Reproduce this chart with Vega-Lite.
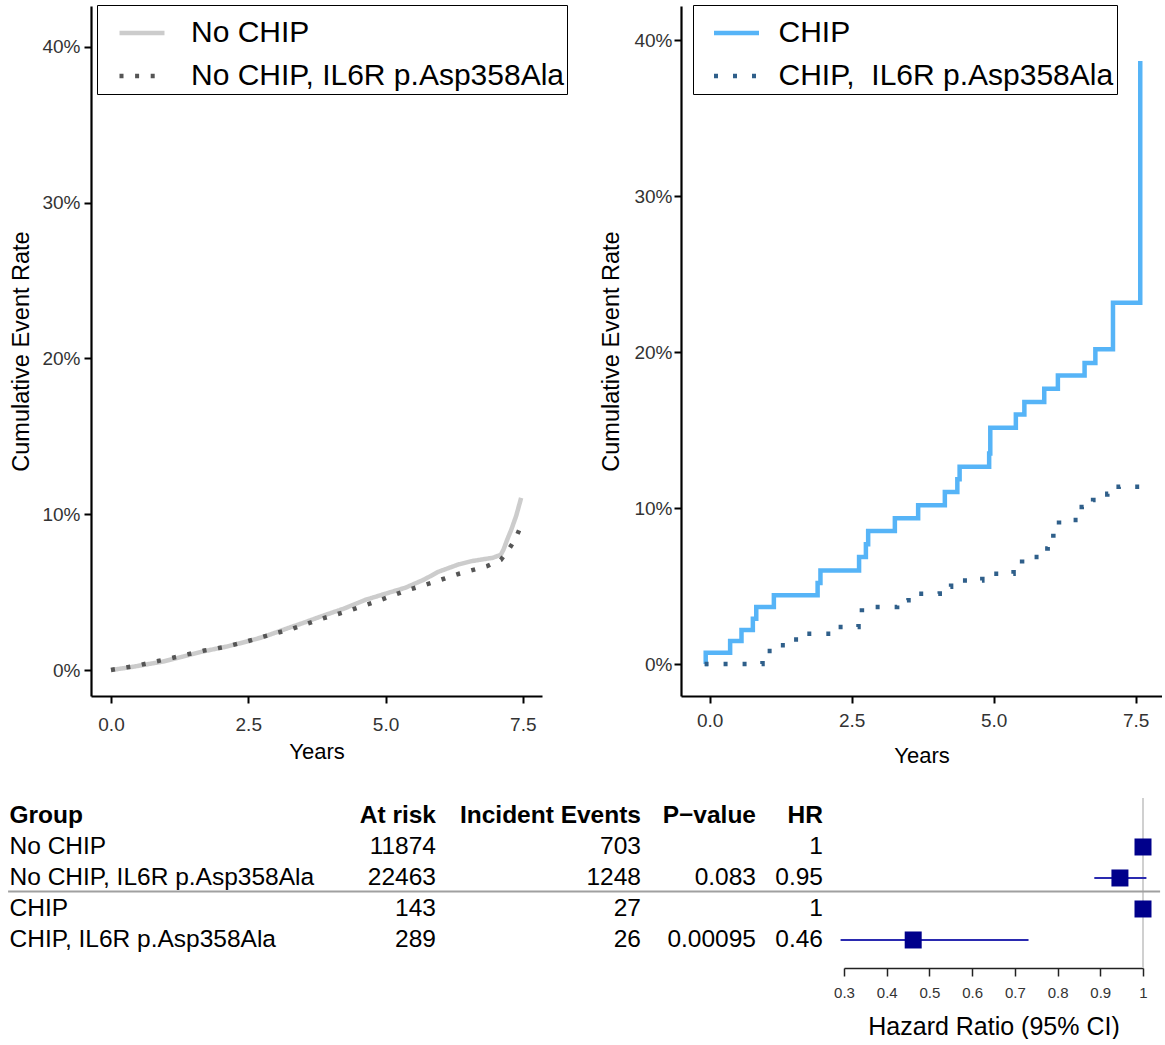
{
  "$schema": "https://vega.github.io/schema/vega-lite/v6.json",
  "padding": {"left": 7, "top": 4, "right": 0, "bottom": 0},
  "background": "white",
  "config": {
    "view": {"stroke": null},
    "font": "Liberation Sans",
    "axis": {"grid": false, "domainColor": "black", "tickColor": "black", "labelColor": "#333333", "titleColor": "black", "titleFontWeight": "normal", "labelFont": "Liberation Sans", "titleFont": "Liberation Sans", "labelFlush": false},
    "text": {"font": "Liberation Sans"},
    "legend": {"labelFont": "Liberation Sans"}
  },
  "datasets": {
    "km_left": [
      {"group": "No CHIP", "years": 0, "rate": 0},
      {"group": "No CHIP", "years": 0.3, "rate": 0.15},
      {"group": "No CHIP", "years": 0.6, "rate": 0.33},
      {"group": "No CHIP", "years": 0.93, "rate": 0.53},
      {"group": "No CHIP", "years": 1.3, "rate": 0.85},
      {"group": "No CHIP", "years": 1.66, "rate": 1.18},
      {"group": "No CHIP", "years": 2.1, "rate": 1.5},
      {"group": "No CHIP", "years": 2.5, "rate": 1.85},
      {"group": "No CHIP", "years": 2.8, "rate": 2.15},
      {"group": "No CHIP", "years": 3.24, "rate": 2.71},
      {"group": "No CHIP", "years": 3.5, "rate": 3.02},
      {"group": "No CHIP", "years": 3.84, "rate": 3.46},
      {"group": "No CHIP", "years": 4.25, "rate": 3.95},
      {"group": "No CHIP", "years": 4.63, "rate": 4.5},
      {"group": "No CHIP", "years": 5.0, "rate": 4.9},
      {"group": "No CHIP", "years": 5.36, "rate": 5.28},
      {"group": "No CHIP", "years": 5.7, "rate": 5.8},
      {"group": "No CHIP", "years": 5.96, "rate": 6.3},
      {"group": "No CHIP", "years": 6.33, "rate": 6.78},
      {"group": "No CHIP", "years": 6.57, "rate": 6.99},
      {"group": "No CHIP", "years": 6.76, "rate": 7.1},
      {"group": "No CHIP", "years": 6.95, "rate": 7.2},
      {"group": "No CHIP", "years": 7.1, "rate": 7.4},
      {"group": "No CHIP", "years": 7.15, "rate": 7.74},
      {"group": "No CHIP", "years": 7.22, "rate": 8.4},
      {"group": "No CHIP", "years": 7.29, "rate": 9.0},
      {"group": "No CHIP", "years": 7.38, "rate": 9.9},
      {"group": "No CHIP", "years": 7.47, "rate": 11.05},
      {"group": "No CHIP, IL6R p.Asp358Ala", "years": 0, "rate": 0},
      {"group": "No CHIP, IL6R p.Asp358Ala", "years": 0.5, "rate": 0.3},
      {"group": "No CHIP, IL6R p.Asp358Ala", "years": 1.13, "rate": 0.79},
      {"group": "No CHIP, IL6R p.Asp358Ala", "years": 1.7, "rate": 1.25},
      {"group": "No CHIP, IL6R p.Asp358Ala", "years": 2.1, "rate": 1.5},
      {"group": "No CHIP, IL6R p.Asp358Ala", "years": 2.5, "rate": 1.86},
      {"group": "No CHIP, IL6R p.Asp358Ala", "years": 2.77, "rate": 2.14},
      {"group": "No CHIP, IL6R p.Asp358Ala", "years": 3.3, "rate": 2.65},
      {"group": "No CHIP, IL6R p.Asp358Ala", "years": 3.8, "rate": 3.25},
      {"group": "No CHIP, IL6R p.Asp358Ala", "years": 4.32, "rate": 3.79},
      {"group": "No CHIP, IL6R p.Asp358Ala", "years": 4.82, "rate": 4.38},
      {"group": "No CHIP, IL6R p.Asp358Ala", "years": 5.32, "rate": 5.03},
      {"group": "No CHIP, IL6R p.Asp358Ala", "years": 5.82, "rate": 5.58},
      {"group": "No CHIP, IL6R p.Asp358Ala", "years": 6.34, "rate": 6.18},
      {"group": "No CHIP, IL6R p.Asp358Ala", "years": 6.85, "rate": 6.67},
      {"group": "No CHIP, IL6R p.Asp358Ala", "years": 7.1, "rate": 7.07},
      {"group": "No CHIP, IL6R p.Asp358Ala", "years": 7.24, "rate": 7.71},
      {"group": "No CHIP, IL6R p.Asp358Ala", "years": 7.37, "rate": 8.44},
      {"group": "No CHIP, IL6R p.Asp358Ala", "years": 7.47, "rate": 9.29}
    ],
    "km_right": [
      {"group": "CHIP", "years": -0.08, "rate": 0},
      {"group": "CHIP", "years": -0.07, "rate": 0.72},
      {"group": "CHIP", "years": 0.36, "rate": 1.47},
      {"group": "CHIP", "years": 0.56, "rate": 2.18},
      {"group": "CHIP", "years": 0.76, "rate": 2.9},
      {"group": "CHIP", "years": 0.82, "rate": 3.65},
      {"group": "CHIP", "years": 1.13, "rate": 4.4},
      {"group": "CHIP", "years": 1.9, "rate": 5.2},
      {"group": "CHIP", "years": 1.95, "rate": 6.0},
      {"group": "CHIP", "years": 2.63, "rate": 6.86},
      {"group": "CHIP", "years": 2.75, "rate": 7.67},
      {"group": "CHIP", "years": 2.79, "rate": 8.53},
      {"group": "CHIP", "years": 3.26, "rate": 9.34},
      {"group": "CHIP", "years": 3.67, "rate": 10.17},
      {"group": "CHIP", "years": 4.14, "rate": 11.03},
      {"group": "CHIP", "years": 4.36, "rate": 11.84},
      {"group": "CHIP", "years": 4.4, "rate": 12.65},
      {"group": "CHIP", "years": 4.92, "rate": 13.5},
      {"group": "CHIP", "years": 4.94, "rate": 15.15},
      {"group": "CHIP", "years": 5.39, "rate": 16.0},
      {"group": "CHIP", "years": 5.54, "rate": 16.8},
      {"group": "CHIP", "years": 5.89, "rate": 17.65},
      {"group": "CHIP", "years": 6.13, "rate": 18.5},
      {"group": "CHIP", "years": 6.6, "rate": 19.3},
      {"group": "CHIP", "years": 6.79, "rate": 20.17},
      {"group": "CHIP", "years": 7.1, "rate": 23.16},
      {"group": "CHIP", "years": 7.58, "rate": 38.65},
      {"group": "CHIP,\u00a0 IL6R p.Asp358Ala", "years": -0.09, "rate": 0},
      {"group": "CHIP,\u00a0 IL6R p.Asp358Ala", "years": 0.93, "rate": 0.83},
      {"group": "CHIP,\u00a0 IL6R p.Asp358Ala", "years": 1.17, "rate": 1.2},
      {"group": "CHIP,\u00a0 IL6R p.Asp358Ala", "years": 1.4, "rate": 1.57},
      {"group": "CHIP,\u00a0 IL6R p.Asp358Ala", "years": 1.62, "rate": 1.94},
      {"group": "CHIP,\u00a0 IL6R p.Asp358Ala", "years": 2.15, "rate": 2.37},
      {"group": "CHIP,\u00a0 IL6R p.Asp358Ala", "years": 2.62, "rate": 3.18},
      {"group": "CHIP,\u00a0 IL6R p.Asp358Ala", "years": 2.68, "rate": 3.65},
      {"group": "CHIP,\u00a0 IL6R p.Asp358Ala", "years": 3.3, "rate": 4.08},
      {"group": "CHIP,\u00a0 IL6R p.Asp358Ala", "years": 3.5, "rate": 4.51},
      {"group": "CHIP,\u00a0 IL6R p.Asp358Ala", "years": 4.05, "rate": 4.95},
      {"group": "CHIP,\u00a0 IL6R p.Asp358Ala", "years": 4.25, "rate": 5.36},
      {"group": "CHIP,\u00a0 IL6R p.Asp358Ala", "years": 4.8, "rate": 5.79},
      {"group": "CHIP,\u00a0 IL6R p.Asp358Ala", "years": 5.35, "rate": 6.21},
      {"group": "CHIP,\u00a0 IL6R p.Asp358Ala", "years": 5.5, "rate": 6.86},
      {"group": "CHIP,\u00a0 IL6R p.Asp358Ala", "years": 5.88, "rate": 7.4},
      {"group": "CHIP,\u00a0 IL6R p.Asp358Ala", "years": 5.95, "rate": 7.93},
      {"group": "CHIP,\u00a0 IL6R p.Asp358Ala", "years": 6.05, "rate": 8.42},
      {"group": "CHIP,\u00a0 IL6R p.Asp358Ala", "years": 6.15, "rate": 9.23},
      {"group": "CHIP,\u00a0 IL6R p.Asp358Ala", "years": 6.55, "rate": 10.06},
      {"group": "CHIP,\u00a0 IL6R p.Asp358Ala", "years": 6.75, "rate": 10.51},
      {"group": "CHIP,\u00a0 IL6R p.Asp358Ala", "years": 7.0, "rate": 10.92},
      {"group": "CHIP,\u00a0 IL6R p.Asp358Ala", "years": 7.2, "rate": 11.37},
      {"group": "CHIP,\u00a0 IL6R p.Asp358Ala", "years": 7.6, "rate": 11.37}
    ],
    "table": [
      {"group": "No CHIP", "at_risk": "11874", "events": "703", "p_value": "", "hr": 1, "hr_label": "1", "lo": null, "hi": null},
      {"group": "No CHIP, IL6R p.Asp358Ala", "at_risk": "22463", "events": "1248", "p_value": "0.083", "hr": 0.946, "hr_label": "0.95", "lo": 0.886, "hi": 1.008},
      {"group": "CHIP", "at_risk": "143", "events": "27", "p_value": "", "hr": 1, "hr_label": "1", "lo": null, "hi": null},
      {"group": "CHIP, IL6R p.Asp358Ala", "at_risk": "289", "events": "26", "p_value": "0.00095", "hr": 0.462, "hr_label": "0.46", "lo": 0.292, "hi": 0.732}
    ]
  },
  "vconcat": [
    {
      "hconcat": [
        {
          "width": 451, "height": 690,
          "data": {"name": "km_left"},
          "mark": {"type": "line", "strokeWidth": 4.5, "strokeCap": "butt"},
          "encoding": {
            "x": {"field": "years", "type": "quantitative", "scale": {"domain": [-0.364, 7.85], "nice": false, "zero": false},
              "axis": {"values": [0, 2.5, 5, 7.5], "format": ".1f", "title": "Years", "labelFontSize": 19, "titleFontSize": 22, "tickSize": 7, "tickWidth": 2, "domainWidth": 2.2, "labelPadding": 12, "titlePadding": 7}},
            "y": {"field": "rate", "type": "quantitative", "scale": {"domain": [-1.669, 42.63], "nice": false, "zero": false},
              "axis": {"values": [0, 10, 20, 30, 40], "labelExpr": "datum.value + '%'", "title": "Cumulative Event Rate", "labelFontSize": 19, "titleFontSize": 23.5, "tickSize": 7, "tickWidth": 2, "domainWidth": 2.2, "labelPadding": 4, "titlePadding": 8}},
            "color": {"field": "group", "type": "nominal",
              "scale": {"domain": ["No CHIP", "No CHIP, IL6R p.Asp358Ala"], "range": ["#cccccc", "#555555"]},
              "legend": {"orient": "none", "legendX": 6, "legendY": -1, "title": null, "symbolType": "stroke", "symbolSize": 2025, "symbolStrokeWidth": 4.5, "symbolOffset": 17, "labelOffset": 24, "labelFontSize": 30, "labelColor": "black", "labelLimit": 0, "padding": 3, "rowPadding": 3, "strokeColor": "black", "fillColor": "white"}},
            "strokeDash": {"field": "group", "type": "nominal",
              "scale": {"domain": ["No CHIP", "No CHIP, IL6R p.Asp358Ala"], "range": [[1, 0], [4, 11.6]]},
              "legend": {"orient": "none", "legendX": 6, "legendY": -1, "title": null, "symbolType": "stroke", "symbolSize": 2025, "symbolStrokeWidth": 4.5, "symbolOffset": 17, "labelOffset": 24, "labelFontSize": 30, "labelColor": "black", "labelLimit": 0, "padding": 3, "rowPadding": 3, "strokeColor": "black", "fillColor": "white"}}
          }
        },
        {
          "width": 481, "height": 690,
          "data": {"name": "km_right"},
          "mark": {"type": "line", "strokeWidth": 4.5, "strokeCap": "butt", "interpolate": "step-after"},
          "encoding": {
            "x": {"field": "years", "type": "quantitative", "scale": {"domain": [-0.505, 7.963], "nice": false, "zero": false},
              "axis": {"values": [0, 2.5, 5, 7.5], "format": ".1f", "title": "Years", "labelFontSize": 19, "titleFontSize": 22, "tickSize": 7, "tickWidth": 2, "domainWidth": 2.2, "labelPadding": 8, "titlePadding": 15}},
            "y": {"field": "rate", "type": "quantitative", "scale": {"domain": [-2.051, 42.18], "nice": false, "zero": false},
              "axis": {"values": [0, 10, 20, 30, 40], "labelExpr": "datum.value + '%'", "title": "Cumulative Event Rate", "labelFontSize": 19, "titleFontSize": 23.5, "tickSize": 7, "tickWidth": 2, "domainWidth": 2.2, "labelPadding": 2, "titlePadding": 10}},
            "color": {"field": "group", "type": "nominal",
              "scale": {"domain": ["CHIP", "CHIP,\u00a0 IL6R p.Asp358Ala"], "range": ["#56b4f7", "#2f5f8a"]},
              "legend": {"orient": "none", "legendX": 12, "legendY": -1, "title": null, "symbolType": "stroke", "symbolSize": 2025, "symbolStrokeWidth": 4.5, "symbolOffset": 15.5, "labelOffset": 17, "labelFontSize": 30, "labelColor": "black", "labelLimit": 0, "padding": 3, "rowPadding": 3, "strokeColor": "black", "fillColor": "white"}},
            "strokeDash": {"field": "group", "type": "nominal",
              "scale": {"domain": ["CHIP", "CHIP,\u00a0 IL6R p.Asp358Ala"], "range": [[1, 0], [4, 15]]},
              "legend": {"orient": "none", "legendX": 12, "legendY": -1, "title": null, "symbolType": "stroke", "symbolSize": 2025, "symbolStrokeWidth": 4.5, "symbolOffset": 15.5, "labelOffset": 17, "labelFontSize": 30, "labelColor": "black", "labelLimit": 0, "padding": 3, "rowPadding": 3, "strokeColor": "black", "fillColor": "white"}}
          }
        }
      ],
      "spacing": 139,
      "bounds": "flush",
      "resolve": {"scale": {"color": "independent", "strokeDash": "independent", "x": "independent", "y": "independent"}}
    },
    {
      "hconcat": [
        {
          "width": 345, "height": 170,
          "layer": [
            {
              "data": {"values": [{"label": "At risk"}]},
              "mark": {"type": "text", "align": "right", "baseline": "middle", "fontSize": 24.5, "fontWeight": "bold", "color": "black"},
              "encoding": {
                "x": {"value": "width"},
                "y": {"datum": "Group", "type": "nominal",
                  "scale": {"type": "point", "domain": ["Group", "No CHIP", "No CHIP, IL6R p.Asp358Ala", "CHIP", "CHIP, IL6R p.Asp358Ala"], "padding": 0.742, "align": 0.391},
                  "axis": {"orient": "left", "title": null, "domain": false, "ticks": false, "tickSize": 0, "labelAlign": "left", "labelPadding": 82, "labelFontSize": 24.5, "labelColor": "black", "labelLimit": 0, "labelOverlap": false, "labelFontWeight": {"condition": {"test": "datum.value === 'Group'", "value": "bold"}, "value": "normal"}}},
                "text": {"field": "label"}
              }
            },
            {
              "data": {"name": "table"},
              "mark": {"type": "text", "align": "right", "baseline": "middle", "fontSize": 24.5, "color": "black"},
              "encoding": {
                "x": {"value": "width"},
                "y": {"field": "group", "type": "nominal",
                  "scale": {"type": "point", "domain": ["Group", "No CHIP", "No CHIP, IL6R p.Asp358Ala", "CHIP", "CHIP, IL6R p.Asp358Ala"], "padding": 0.742, "align": 0.391},
                  "axis": {"orient": "left", "title": null, "domain": false, "ticks": false, "tickSize": 0, "labelAlign": "left", "labelPadding": 82, "labelFontSize": 24.5, "labelColor": "black", "labelLimit": 0, "labelOverlap": false, "labelFontWeight": {"condition": {"test": "datum.value === 'Group'", "value": "bold"}, "value": "normal"}}},
                "text": {"field": "at_risk"}
              }
            }
          ]
        },
        {
          "width": 184, "height": 170,
          "layer": [
            {
              "data": {"values": [{"label": "Incident Events"}]},
              "mark": {"type": "text", "align": "right", "baseline": "middle", "fontSize": 24.5, "fontWeight": "bold", "color": "black"},
              "encoding": {
                "x": {"value": "width"},
                "y": {"datum": "Group", "type": "nominal", "scale": {"type": "point", "domain": ["Group", "No CHIP", "No CHIP, IL6R p.Asp358Ala", "CHIP", "CHIP, IL6R p.Asp358Ala"], "padding": 0.742, "align": 0.391}, "axis": null},
                "text": {"field": "label"}
              }
            },
            {
              "data": {"name": "table"},
              "mark": {"type": "text", "align": "right", "baseline": "middle", "fontSize": 24.5, "color": "black"},
              "encoding": {
                "x": {"value": "width"},
                "y": {"field": "group", "type": "nominal", "scale": {"type": "point", "domain": ["Group", "No CHIP", "No CHIP, IL6R p.Asp358Ala", "CHIP", "CHIP, IL6R p.Asp358Ala"], "padding": 0.742, "align": 0.391}, "axis": null},
                "text": {"field": "events"}
              }
            }
          ]
        },
        {
          "width": 94, "height": 170,
          "layer": [
            {
              "data": {"values": [{"label": "P−value"}]},
              "mark": {"type": "text", "align": "right", "baseline": "middle", "fontSize": 24.5, "fontWeight": "bold", "color": "black"},
              "encoding": {
                "x": {"value": "width"},
                "y": {"datum": "Group", "type": "nominal", "scale": {"type": "point", "domain": ["Group", "No CHIP", "No CHIP, IL6R p.Asp358Ala", "CHIP", "CHIP, IL6R p.Asp358Ala"], "padding": 0.742, "align": 0.391}, "axis": null},
                "text": {"field": "label"}
              }
            },
            {
              "data": {"name": "table"},
              "mark": {"type": "text", "align": "right", "baseline": "middle", "fontSize": 24.5, "color": "black"},
              "encoding": {
                "x": {"value": "width"},
                "y": {"field": "group", "type": "nominal", "scale": {"type": "point", "domain": ["Group", "No CHIP", "No CHIP, IL6R p.Asp358Ala", "CHIP", "CHIP, IL6R p.Asp358Ala"], "padding": 0.742, "align": 0.391}, "axis": null},
                "text": {"field": "p_value"}
              }
            }
          ]
        },
        {
          "width": 46, "height": 170,
          "layer": [
            {
              "data": {"values": [{"label": "HR"}]},
              "mark": {"type": "text", "align": "right", "baseline": "middle", "fontSize": 24.5, "fontWeight": "bold", "color": "black"},
              "encoding": {
                "x": {"value": "width"},
                "y": {"datum": "Group", "type": "nominal", "scale": {"type": "point", "domain": ["Group", "No CHIP", "No CHIP, IL6R p.Asp358Ala", "CHIP", "CHIP, IL6R p.Asp358Ala"], "padding": 0.742, "align": 0.391}, "axis": null},
                "text": {"field": "label"}
              }
            },
            {
              "data": {"name": "table"},
              "mark": {"type": "text", "align": "right", "baseline": "middle", "fontSize": 24.5, "color": "black"},
              "encoding": {
                "x": {"value": "width"},
                "y": {"field": "group", "type": "nominal", "scale": {"type": "point", "domain": ["Group", "No CHIP", "No CHIP, IL6R p.Asp358Ala", "CHIP", "CHIP, IL6R p.Asp358Ala"], "padding": 0.742, "align": 0.391}, "axis": null},
                "text": {"field": "hr_label"}
              }
            }
          ]
        },
        {
          "width": 299, "height": 170,
          "layer": [
            {
              "data": {"values": [{"ref": 1}]},
              "mark": {"type": "rule", "color": "#d0d0d0", "strokeWidth": 2},
              "encoding": {
                "x": {"field": "ref", "type": "quantitative", "scale": {"domain": [0.3, 1.0], "nice": false, "zero": false},
                  "axis": {"values": [0.3, 0.4, 0.5, 0.6, 0.7, 0.8, 0.9, 1.0], "format": ".1~f", "title": "Hazard Ratio (95% CI)", "labelFontSize": 15, "titleFontSize": 25, "tickSize": 8, "tickWidth": 1.5, "domainWidth": 1.5, "domainColor": "#222222", "tickColor": "#222222", "labelPadding": 9, "titlePadding": 14, "labelColor": "#333333"}}
              }
            },
            {
              "data": {"values": [{"sep": "row divider"}]},
              "mark": {"type": "rule", "color": "#a0a0a0", "strokeWidth": 2, "yOffset": 13.5},
              "encoding": {
                "x": {"datum": -1.657, "type": "quantitative", "scale": {"domain": [0.3, 1.0], "nice": false, "zero": false},
                  "axis": {"values": [0.3, 0.4, 0.5, 0.6, 0.7, 0.8, 0.9, 1.0], "format": ".1~f", "title": "Hazard Ratio (95% CI)", "labelFontSize": 15, "titleFontSize": 25, "tickSize": 8, "tickWidth": 1.5, "domainWidth": 1.5, "domainColor": "#222222", "tickColor": "#222222", "labelPadding": 9, "titlePadding": 14, "labelColor": "#333333"}},
                "x2": {"datum": 1.04},
                "y": {"datum": "No CHIP, IL6R p.Asp358Ala", "type": "nominal", "scale": {"type": "point", "domain": ["Group", "No CHIP", "No CHIP, IL6R p.Asp358Ala", "CHIP", "CHIP, IL6R p.Asp358Ala"], "padding": 0.742, "align": 0.391}, "axis": null}
              }
            },
            {
              "data": {"name": "table"},
              "transform": [{"filter": "datum.lo != null"}],
              "mark": {"type": "rule", "color": "#2a2ab0", "strokeWidth": 2},
              "encoding": {
                "x": {"field": "lo", "type": "quantitative", "scale": {"domain": [0.3, 1.0], "nice": false, "zero": false},
                  "axis": {"values": [0.3, 0.4, 0.5, 0.6, 0.7, 0.8, 0.9, 1.0], "format": ".1~f", "title": "Hazard Ratio (95% CI)", "labelFontSize": 15, "titleFontSize": 25, "tickSize": 8, "tickWidth": 1.5, "domainWidth": 1.5, "domainColor": "#222222", "tickColor": "#222222", "labelPadding": 9, "titlePadding": 14, "labelColor": "#333333"}},
                "x2": {"field": "hi"},
                "y": {"field": "group", "type": "nominal", "scale": {"type": "point", "domain": ["Group", "No CHIP", "No CHIP, IL6R p.Asp358Ala", "CHIP", "CHIP, IL6R p.Asp358Ala"], "padding": 0.742, "align": 0.391}, "axis": null}
              }
            },
            {
              "data": {"name": "table"},
              "mark": {"type": "point", "shape": "square", "filled": true, "size": 289, "color": "#00008b", "opacity": 1},
              "encoding": {
                "x": {"field": "hr", "type": "quantitative", "scale": {"domain": [0.3, 1.0], "nice": false, "zero": false},
                  "axis": {"values": [0.3, 0.4, 0.5, 0.6, 0.7, 0.8, 0.9, 1.0], "format": ".1~f", "title": "Hazard Ratio (95% CI)", "labelFontSize": 15, "titleFontSize": 25, "tickSize": 8, "tickWidth": 1.5, "domainWidth": 1.5, "domainColor": "#222222", "tickColor": "#222222", "labelPadding": 9, "titlePadding": 14, "labelColor": "#333333"}},
                "y": {"field": "group", "type": "nominal", "scale": {"type": "point", "domain": ["Group", "No CHIP", "No CHIP, IL6R p.Asp358Ala", "CHIP", "CHIP, IL6R p.Asp358Ala"], "padding": 0.742, "align": 0.391}, "axis": null}
              }
            }
          ]
        }
      ],
      "spacing": 21,
      "bounds": "flush"
    }
  ],
  "spacing": 31,
  "bounds": "full"
}
